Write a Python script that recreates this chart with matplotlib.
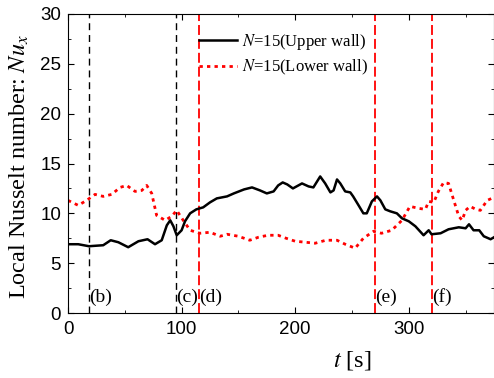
import matplotlib
matplotlib.use("Agg")
import matplotlib.pyplot as plt
from matplotlib.ticker import MultipleLocator

plt.rcParams['mathtext.fontset'] = 'stix'

# upper wall (black solid)
t_up = [0, 9, 18.5, 31, 37.6, 44.3, 53, 62, 70, 76.6, 82.5, 87, 90, 92.8, 95.7, 100, 103,
        107.5, 113, 119, 125, 131, 140, 146, 155, 162, 169, 175, 181, 185, 189, 193,
        198, 206, 211.8, 216, 222, 226.4, 231, 233.8, 236.8, 239.7, 244, 248.5, 251,
        255.8, 260, 263, 267.5, 272, 275, 279.3, 283.7, 289.5, 294, 300, 305.8, 313,
        317.5, 320, 328, 335, 344, 350, 353, 357, 362, 366, 372, 375]
nu_up = [6.9, 6.9, 6.7, 6.8, 7.3, 7.1, 6.6, 7.2, 7.4, 6.9, 7.3, 8.8, 9.3, 8.7, 7.8, 8.3, 9.2,
         10.0, 10.4, 10.6, 11.1, 11.5, 11.7, 12.0, 12.4, 12.6, 12.3, 12.0, 12.2, 12.8, 13.1, 12.9,
         12.5, 13.0, 12.7, 12.6, 13.7, 13.0, 12.1, 12.3, 13.4, 13.0, 12.2, 12.1, 11.7,
         10.8, 10.0, 10.0, 11.2, 11.7, 11.3, 10.4, 10.2, 10.0, 9.5, 9.2, 8.7, 7.8,
         8.3, 7.9, 8.0, 8.4, 8.6, 8.5, 8.9, 8.3, 8.3, 7.7, 7.4, 7.6]

# lower wall (red dotted)
t_lo = [0, 9, 16.4, 23.8, 31, 38.5, 45.8, 51.7, 59, 65, 69.3, 73.7, 78, 85.5, 91.3, 95.7,
        102, 107.5, 116, 125, 134, 140, 150, 160, 167.6, 176, 185, 192, 200, 209, 217.6,
        227, 236.8, 244, 252.8, 260, 269, 276, 285, 294, 301, 308.7, 314.6, 317.5, 322,
        326, 330.7, 335, 339.6, 344, 347, 350, 354, 359, 363, 369, 375]
nu_lo = [11.3, 10.8, 11.3, 11.9, 11.7, 11.9, 12.6, 12.8, 12.2, 12.3, 12.8, 12.0, 9.8, 9.3, 9.7, 10.3,
         9.2, 8.3, 8.0, 8.1, 7.7, 7.9, 7.7, 7.3, 7.6, 7.8, 7.8, 7.5, 7.2, 7.1, 7.0,
         7.3, 7.3, 6.9, 6.5, 7.5, 8.2, 8.0, 8.3, 9.3, 10.7, 10.5, 10.4, 11.2, 11.1,
         12.2, 13.1, 13.0, 11.3, 9.7, 9.3, 10.3, 10.7, 10.4, 10.3, 11.3, 11.6]

# snapshot markers
snap_t = [18.5, 95, 115, 270, 320]
snap_lbl = ['(b)', '(c)', '(d)', '(e)', '(f)']
snap_col = ['black', 'black', 'red', 'red', 'red']

W, H = 494, 378
fig = plt.figure(figsize=(W/100, H/100), dpi=100)
ax = fig.add_axes([68/W, 1-313/H, (W-68)/W, (313-14)/H])

for x, lab, c in zip(snap_t, snap_lbl, snap_col):
    if c == 'black':
        ax.axvline(x, color=c, ls=(0, (5, 3.5)), lw=1.0, zorder=1)
    else:
        ax.axvline(x, color=c, ls=(0, (5.5, 2.2)), lw=1.3, zorder=1)
    ax.text(x + 0.3, 1.6, lab, family='Liberation Serif', fontsize=14, va='center', ha='left')

ax.plot(t_up, nu_up, color='black', lw=1.8, label='$N$=15(Upper wall)', zorder=3)
ax.plot(t_lo, nu_lo, color='red', lw=2.0, ls=(0, (1.2, 1.5)), label='$N$=15(Lower wall)', zorder=2)

ax.set_xlim(0, 375)
ax.set_ylim(0, 30)
ax.xaxis.set_major_locator(MultipleLocator(100))
ax.xaxis.set_minor_locator(MultipleLocator(50))
ax.yaxis.set_major_locator(MultipleLocator(5))
ax.yaxis.set_minor_locator(MultipleLocator(2.5))
ax.tick_params(which='both', direction='in', top=True, right=True)
ax.tick_params(which='major', length=4, labelsize=13.5)
ax.tick_params(axis='x', which='major', pad=6)
ax.tick_params(axis='y', which='major', pad=5)
ax.tick_params(which='minor', length=2.5)
for lbl in ax.get_xticklabels() + ax.get_yticklabels():
    lbl.set_family('Liberation Sans')

ax.set_xlabel('$t$ [s]', family='Liberation Serif', fontsize=17.5)
ax.set_ylabel('Local Nusselt number: $Nu_x$', family='Liberation Serif', fontsize=17.5)
ax.xaxis.set_label_coords((352-68)/426, -(349-313)/299)
ax.yaxis.set_label_coords(-(68-31)/426, 0.49)

leg = ax.legend(loc='upper left', bbox_to_anchor=(199/W, 1-32/H), bbox_transform=fig.transFigure,
                frameon=False, borderpad=0, borderaxespad=0,
                prop={'family': 'Liberation Serif', 'size': 12}, handlelength=2.3,
                handletextpad=0.25, labelspacing=0.35)

fig.savefig('out.png', dpi=100)
